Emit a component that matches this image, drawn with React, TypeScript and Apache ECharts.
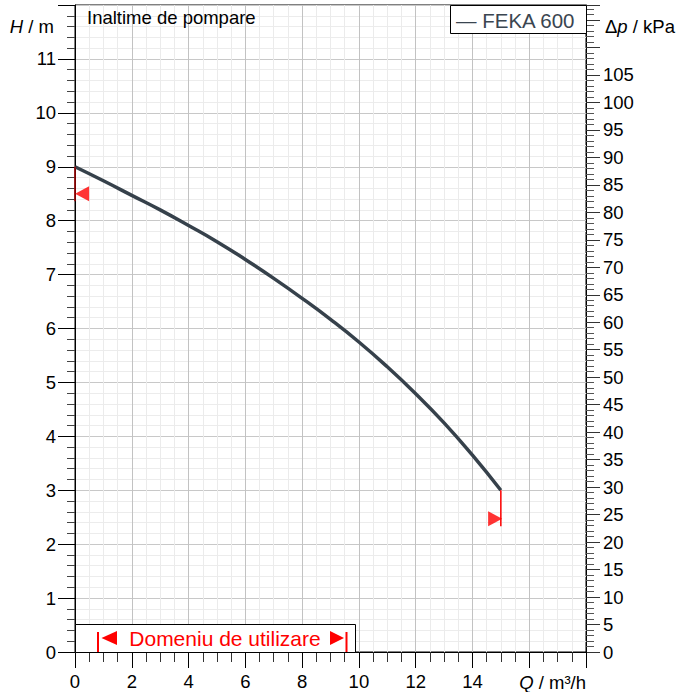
import React, { useEffect, useRef } from "react";
import * as echarts from "echarts";

// Pump curve FEKA 600: flow Q (m³/h) vs head H (m)
const flowQ = [0, 1, 2, 3, 4, 5, 6, 7, 8, 9, 10, 11, 12, 13, 14, 15];
const headH = [9.0, 8.74, 8.47, 8.2, 7.91, 7.61, 7.28, 6.93, 6.56, 6.17, 5.75, 5.29, 4.79, 4.25, 3.65, 3.0];

// Operating-range markers (red) at both ends of the curve
const leftMarkerLine = [[0, 9.0], [0, 8.36]];
const rightMarkerLine = [[15, 3.0], [15, 2.33]];
const markerTriangles = [
  { value: [0.25, 8.5], symbolRotate: 90 },
  { value: [14.8, 2.47], symbolRotate: -90 },
];

const seriesName = "FEKA 600";
const KPA_PER_M = 9.81;
const H_MAX = 12;
const Q_MAX = 18;

const FONT = "Liberation Sans, Arial, sans-serif";
const FS = 18.5;

export default function App() {
  const ref = useRef<HTMLDivElement>(null);

  useEffect(() => {
    if (!ref.current) return;
    const chart = echarts.init(ref.current, null, { renderer: "svg" });
    const lineData = flowQ.map((q, i) => [q, headH[i]]);

    const option: any = {
      animation: false,
      backgroundColor: "#fff",
      grid: {
        left: 75,
        top: 5,
        width: 511,
        height: 647,
        show: true,
        borderColor: "#000",
        borderWidth: 1,
      },
      xAxis: {
        type: "value",
        min: 0,
        max: Q_MAX,
        interval: 2,
        axisLine: { show: true, lineStyle: { color: "#000", width: 1 } },
        axisTick: { show: true, length: 16, lineStyle: { color: "#000" } },
        minorTick: { show: true, splitNumber: 4, length: 10, lineStyle: { color: "#333" } },
        splitLine: { show: true, lineStyle: { color: "#c2c2c2", width: 1 } },
        minorSplitLine: { show: true, lineStyle: { color: "#ebebeb", width: 1 } },
        axisLabel: {
          margin: 20,
          fontSize: FS,
          fontFamily: FONT,
          color: "#000",
          formatter: (v: number) => (v >= 16 ? "" : String(v)),
        },
      },
      yAxis: [
        {
          type: "value",
          position: "left",
          min: 0,
          max: H_MAX,
          interval: 1,
          axisLine: { show: true, lineStyle: { color: "#000", width: 1 } },
          axisTick: { show: true, length: 17, lineStyle: { color: "#000" } },
          minorTick: { show: true, splitNumber: 5, length: 8, lineStyle: { color: "#444" } },
          splitLine: { show: true, lineStyle: { color: "#c8c8c8", width: 1 } },
          minorSplitLine: { show: true, lineStyle: { color: "#ececec", width: 1 } },
          axisLabel: {
            margin: 19,
            fontSize: FS,
            fontFamily: FONT,
            color: "#000",
            formatter: (v: number) => (v >= 12 ? "" : String(v)),
          },
        },
        {
          type: "value",
          position: "right",
          min: 0,
          max: H_MAX * KPA_PER_M,
          interval: 5,
          axisLine: { show: true, lineStyle: { color: "#000", width: 1 } },
          axisTick: { show: true, length: 14, lineStyle: { color: "#333" } },
          minorTick: { show: true, splitNumber: 5, length: 8, lineStyle: { color: "#555" } },
          splitLine: { show: false },
          minorSplitLine: { show: false },
          axisLabel: {
            margin: 17,
            fontSize: FS,
            fontFamily: FONT,
            color: "#000",
            showMaxLabel: false,
            formatter: (v: number) => (v > 105 ? "" : String(v)),
          },
        },
      ],
      series: [
        {
          name: seriesName,
          type: "line",
          data: lineData,
          smooth: 0.5,
          showSymbol: false,
          symbol: "none",
          lineStyle: { color: "#36414b", width: 3.5 },
          z: 5,
        },
        {
          type: "line",
          data: leftMarkerLine,
          showSymbol: false,
          symbol: "none",
          lineStyle: { color: "#a00000", width: 1.5 },
          z: 6,
        },
        {
          type: "line",
          data: rightMarkerLine,
          showSymbol: false,
          symbol: "none",
          lineStyle: { color: "#ff0000", width: 1.5 },
          z: 6,
        },
        {
          type: "scatter",
          data: markerTriangles,
          symbol: "triangle",
          symbolSize: [15, 14],
          itemStyle: { color: "#ff0000" },
          z: 7,
        },
      ],
      graphic: [
        {
          type: "text",
          x: 87,
          y: 17,
          z: 10,
          style: {
            text: "Inaltime de pompare",
            fontSize: FS,
            fontFamily: FONT,
            fill: "#000",
            align: "left",
            verticalAlign: "middle",
          },
        },
        {
          type: "text",
          x: 54,
          y: 26,
          z: 10,
          style: {
            text: "{i|H} / m",
            fontSize: FS,
            fontFamily: FONT,
            fill: "#000",
            align: "right",
            verticalAlign: "middle",
            rich: { i: { fontStyle: "italic", fontSize: FS, fontFamily: FONT, fill: "#000" } },
          },
        },
        {
          type: "text",
          x: 605,
          y: 26,
          z: 10,
          style: {
            text: "Δ{i|p} / kPa",
            fontSize: FS,
            fontFamily: FONT,
            fill: "#000",
            align: "left",
            verticalAlign: "middle",
            rich: { i: { fontStyle: "italic", fontSize: FS, fontFamily: FONT, fill: "#000" } },
          },
        },
        {
          type: "text",
          x: 586,
          y: 682,
          z: 10,
          style: {
            text: "{i|Q} / m³/h",
            fontSize: FS,
            fontFamily: FONT,
            fill: "#000",
            align: "right",
            verticalAlign: "middle",
            rich: { i: { fontStyle: "italic", fontSize: FS, fontFamily: FONT, fill: "#000" } },
          },
        },
        // Legend box
        {
          type: "rect",
          z: 10,
          shape: { x: 450.5, y: 5.5, width: 136, height: 28 },
          style: { fill: "#fff", stroke: "#000", lineWidth: 1 },
        },
        {
          type: "text",
          x: 456,
          y: 20,
          z: 11,
          style: {
            text: "— " + seriesName,
            fontSize: 20.5,
            fontFamily: FONT,
            fill: "#3a4550",
            align: "left",
            verticalAlign: "middle",
          },
        },
        // Domain of use box
        {
          type: "rect",
          z: 10,
          shape: { x: 75.5, y: 624.5, width: 280, height: 28 },
          style: { fill: "#fff", stroke: "#000", lineWidth: 1 },
        },
        {
          type: "rect",
          z: 11,
          shape: { x: 97, y: 632, width: 2, height: 20 },
          style: { fill: "#ff0000" },
        },
        {
          type: "rect",
          z: 11,
          shape: { x: 345.5, y: 632, width: 2, height: 20 },
          style: { fill: "#ff0000" },
        },
        {
          type: "polygon",
          z: 11,
          shape: { points: [[101.5, 638], [117, 631], [117, 645]] },
          style: { fill: "#ff0000" },
        },
        {
          type: "polygon",
          z: 11,
          shape: { points: [[344, 638], [330, 631], [330, 645]] },
          style: { fill: "#ff0000" },
        },
        {
          type: "text",
          x: 225,
          y: 638,
          z: 11,
          style: {
            text: "Domeniu de utilizare",
            fontSize: 21,
            fontFamily: FONT,
            fill: "#ff0000",
            align: "center",
            verticalAlign: "middle",
          },
        },
      ],
    };

    chart.setOption(option);
    return () => chart.dispose();
  }, []);

  return (
    <div
      ref={ref}
      style={{ position: "fixed", left: 0, top: 0, width: 685, height: 692, background: "#fff" }}
    />
  );
}
